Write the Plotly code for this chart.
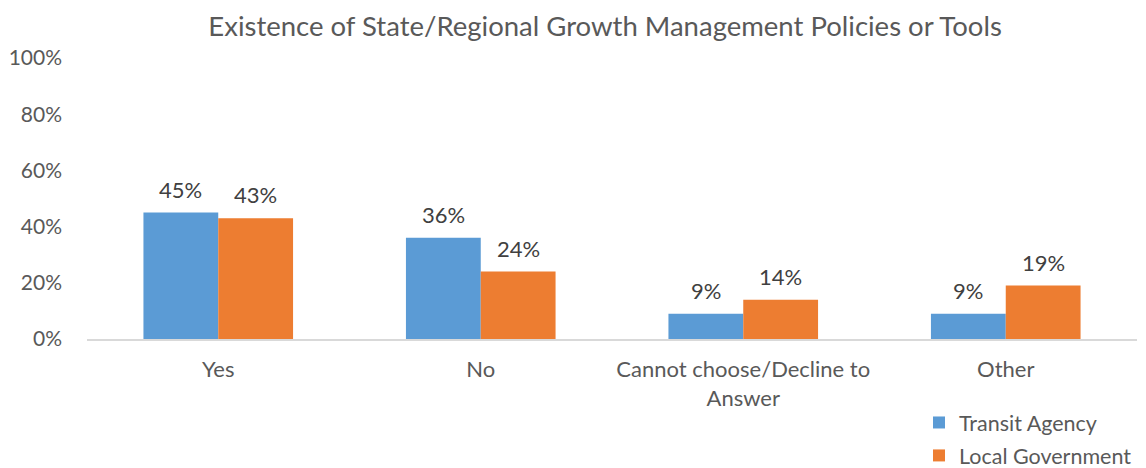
import plotly.graph_objects as go

categories = ["Yes", "No", "Cannot choose/Decline to<br>Answer", "Other"]
transit_agency = [45, 36, 9, 9]
local_government = [43, 24, 14, 19]
y_ticks = [0, 20, 40, 60, 80, 100]
y_tick_labels = ["0%", "20%", "40%", "60%", "80%", "100%"]

BLUE = "#5B9BD5"
ORANGE = "#ED7D31"
FONT = "Lato, 'Open Sans', sans-serif"

W, H = 1146, 468
ML, MR, MT, MB = 87, 9, 58, 5
PLOT_BOTTOM_PX = 339  # y of the category axis line in the page

fig = go.Figure()
fig.add_trace(go.Bar(x=categories, y=transit_agency, name="Transit Agency",
                     legendgroup="a",
                     marker=dict(color=BLUE, line=dict(width=0))))
fig.add_trace(go.Bar(x=categories, y=local_government, name="Local Government",
                     legendgroup="b",
                     marker=dict(color=ORANGE, line=dict(width=0))))

annotations = []
for vals, shift in ((transit_agency, -37.5), (local_government, 37.5)):
    for c, v in zip(categories, vals):
        annotations.append(dict(x=c, y=v, xref="x", yref="y", text=f"{v}%",
                                showarrow=False, yanchor="bottom", xanchor="center",
                                xshift=shift, yshift=8,
                                font=dict(family=FONT, size=22, color="#404040")))

paper_h = H - MT - MB
paper_w = W - ML - MR
y_dom_bottom = (H - MB - PLOT_BOTTOM_PX) / paper_h

fig.update_layout(
    width=W, height=H,
    margin=dict(l=ML, r=MR, t=MT, b=MB, autoexpand=False),
    paper_bgcolor="white", plot_bgcolor="white",
    barmode="group", bargap=0.43, bargroupgap=0,
    title=dict(text="Existence of State/Regional Growth Management Policies or Tools",
               x=0.528, xanchor="center", xref="container",
               y=0.9444, yanchor="middle", yref="container",
               font=dict(family=FONT, size=27.5, color="#595959")),
    font=dict(family=FONT, size=22, color="#595959"),
    xaxis=dict(showline=True, linecolor="#D9D9D9", linewidth=1.5, ticks="",
               ticklabelstandoff=10, anchor="y",
               tickfont=dict(family=FONT, size=22, color="#595959"), showgrid=False),
    yaxis=dict(range=[0, 100], tickvals=y_ticks, ticktext=y_tick_labels, showgrid=False,
               domain=[y_dom_bottom, 1],
               zeroline=False, showline=False, ticks="", ticklabelstandoff=24,
               tickfont=dict(family=FONT, size=21, color="#595959")),
    legend=dict(orientation="v",
                x=(919 - ML) / paper_w, xanchor="left",
                y=(H - MB - 402) / paper_h, yanchor="top",
                traceorder="grouped", tracegroupgap=2,
                font=dict(family=FONT, size=21.5, color="#595959"),
                itemwidth=30, bgcolor="rgba(0,0,0,0)"),
    annotations=annotations,
    showlegend=True,
)

fig.write_html("out.html", config={"displayModeBar": False},
               post_script="document.body.style.margin='0';")
